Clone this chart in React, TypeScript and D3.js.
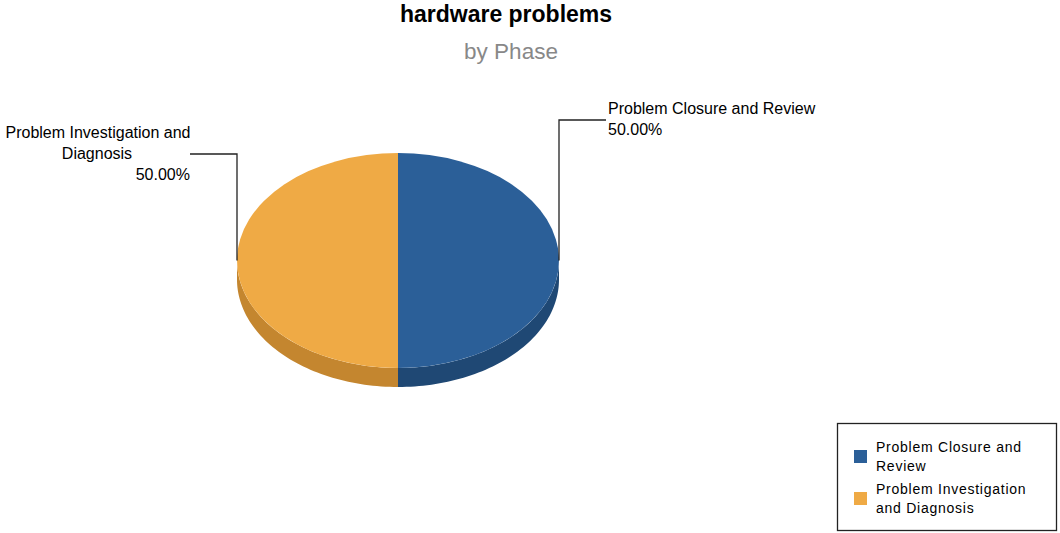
import React from "react";
import * as d3 from "d3";

const categories = ["Problem Closure and Review", "Problem Investigation and Diagnosis"];
const values = [50, 50];
const colors = ["#2B5F98", "#EFAA45"];
const sideColors = ["#1F4874", "#C4862F"];
const legendLines = [["Problem Closure and", "Review"], ["Problem Investigation", "and Diagnosis"]];
const title = "hardware problems";
const subtitle = "by Phase";

const W = 1060, H = 533;
const cx = 398, cy = 260.5, rx = 161, ry = 107.5, depth = 19;

function ept(a: number, dy = 0): [number, number] {
  return [cx + rx * Math.sin(a), cy - ry * Math.cos(a) + dy];
}

export default function App() {
  const pie = d3.pie<number>().sort(null).startAngle(0).endAngle(2 * Math.PI);
  const arcs = pie(values);
  const arcGen = d3.arc<d3.PieArcDatum<number>>().innerRadius(0).outerRadius(rx);
  const total = d3.sum(values);
  const fmt = d3.format(".2f");

  const sides = arcs.map((a, i) => {
    const s = Math.max(a.startAngle, Math.PI / 2);
    const e = Math.min(a.endAngle, 3 * Math.PI / 2);
    if (e <= s) return null;
    const n = 60;
    const p = d3.path();
    for (let k = 0; k <= n; k++) {
      const t = s + ((e - s) * k) / n;
      const [x, y] = ept(t);
      k === 0 ? p.moveTo(x, y) : p.lineTo(x, y);
    }
    for (let k = n; k >= 0; k--) {
      const t = s + ((e - s) * k) / n;
      const [x, y] = ept(t, depth);
      p.lineTo(x, y);
    }
    p.closePath();
    return <path key={i} d={p.toString()} fill={sideColors[i]} />;
  });

  const font = "Liberation Sans, Arial, sans-serif";

  return (
    <svg width={W} height={H} style={{ position: "absolute", left: 0, top: 0 }} fontFamily={font}>
      <rect width={W} height={H} fill="#fff" />
      <text x={506} y={22} textAnchor="middle" fontSize={23} fontWeight="bold" fill="#000">{title}</text>
      <text x={511} y={59} textAnchor="middle" fontSize={22.5} fill="#888">{subtitle}</text>
      {sides}
      <g transform={`translate(${cx},${cy}) scale(1,${ry / rx})`}>
        {arcs.map((a, i) => (
          <path key={i} d={arcGen(a) || ""} fill={colors[i]} />
        ))}
      </g>
      {(() => {
        const [x0, y0] = ept((arcs[0].startAngle + arcs[0].endAngle) / 2);
        const [x1, y1] = ept((arcs[1].startAngle + arcs[1].endAngle) / 2);
        return (
          <g fontSize={16} fill="#000">
            <polyline points={`${x0},${y0} ${x0},120 606,120`} fill="none" stroke="#222" strokeWidth={1.3} />
            <polyline points={`${x1},${y1} ${x1},154 190,154`} fill="none" stroke="#222" strokeWidth={1.3} />
            <text x={608} y={114}>{categories[0]}</text>
            <text x={608} y={135}>{fmt((values[0] / total) * 100)}%</text>
            <text x={98} y={138} textAnchor="middle">Problem Investigation and</text>
            <text x={97} y={159} textAnchor="middle">Diagnosis</text>
            <text x={190} y={180} textAnchor="end">{fmt((values[1] / total) * 100)}%</text>
          </g>
        );
      })()}
      <rect x={837.5} y={423.5} width={219} height={107} fill="#fff" stroke="#222" strokeWidth={1.3} />
      {legendLines.map((lines, i) => (
        <g key={i}>
          <rect x={854} y={450 + i * 42} width={13} height={13} fill={colors[i]} />
          {lines.map((l, j) => (
            <text key={j} x={876} y={452 + i * 42 + j * 19} fontSize={14} fill="#000" letterSpacing={0.75}>{l}</text>
          ))}
        </g>
      ))}
    </svg>
  );
}
